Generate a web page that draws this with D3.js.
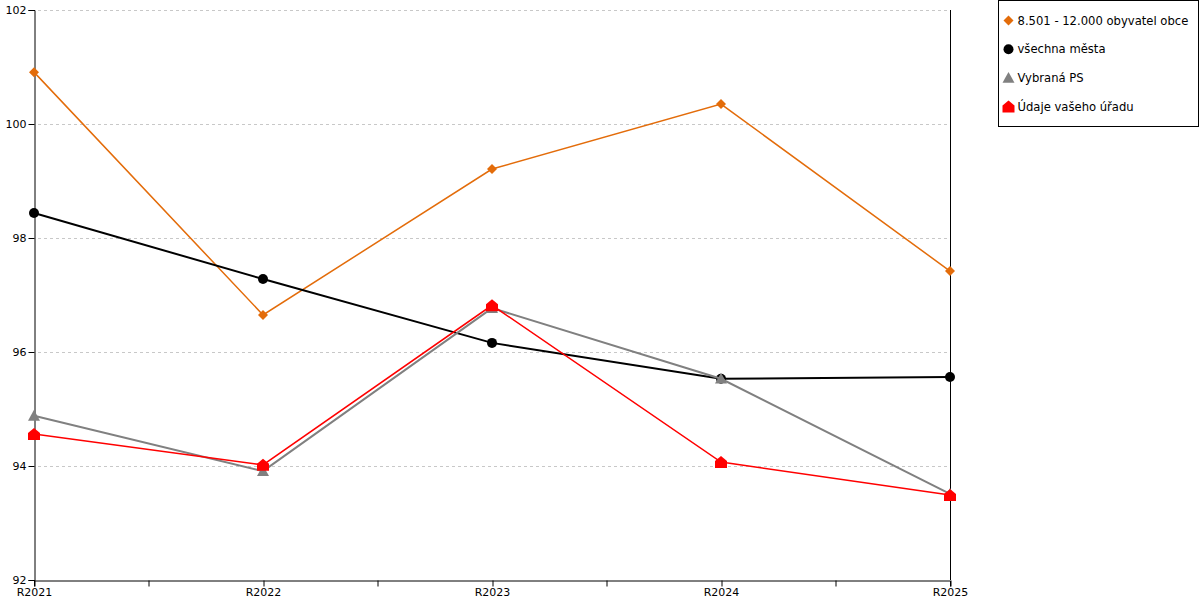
<!DOCTYPE html>
<html>
<head>
<meta charset="utf-8">
<script src="https://cdn.jsdelivr.net/npm/d3@7"></script>
<style>
  body { margin: 0; background: #fff; }
  text { font-family: "DejaVu Sans", Verdana, sans-serif; }
</style>
</head>
<body>
<div id="chart"></div>
<script>
var years = ["R2021", "R2022", "R2023", "R2024", "R2025"];
var yTicks = [92, 94, 96, 98, 100, 102];

var orangeValues = [100.91, 96.65, 99.21, 100.35, 97.42];
var blackValues = [98.44, 97.28, 96.16, 95.53, 95.56];
var grayValues = [94.88, 93.91, 96.77, 95.53, 93.51];
var redValues = [94.56, 94.02, 96.82, 94.07, 93.49];

var seriesNames = ["8.501 - 12.000 obyvatel obce", "všechna města", "Vybraná PS", "Údaje vašeho úřadu"];

var series = [
    {name: seriesNames[0], values: orangeValues, color: "#e36c0a", width: 1.5, marker: "diamond"},
    {name: seriesNames[1], values: blackValues, color: "#000000", width: 2, marker: "circle"},
    {name: seriesNames[2], values: grayValues, color: "#808080", width: 2, marker: "triangle"},
    {name: seriesNames[3], values: redValues, color: "#ff0000", width: 1.5, marker: "house"}
];

var margin = {top: 10, right: 250, bottom: 20, left: 34},
    width = 950 - margin.left,
    height = 580 - margin.top;

var svg = d3.select("#chart")
    .append("svg")
        .attr("width", 1200)
        .attr("height", 600)
    .append("g")
        .attr("transform", "translate(" + margin.left + "," + margin.top + ")");

var x = d3.scalePoint()
        .domain(years)
        .range([0, width]);

var y = d3.scaleLinear()
        .domain([92, 102])
        .range([height, 0]);

// grid lines
svg.append("g")
    .selectAll("line")
    .data(yTicks.slice(1))
    .enter().append("line")
        .attr("x1", 4)
        .attr("x2", width - 2)
        .attr("y1", function(d) { return y(d) + 0.5; })
        .attr("y2", function(d) { return y(d) + 0.5; })
        .attr("stroke", "#c8c8c8")
        .attr("stroke-dasharray", "3,3");

// y axis
var yAxis = svg.append("g")
    .attr("transform", "translate(0.5,0)")
    .call(d3.axisLeft(y).tickValues(yTicks).tickSize(6).tickPadding(2).tickFormat(d3.format("d")));

// x axis with minor ticks between categories
var xAxis = svg.append("g")
    .attr("transform", "translate(0," + (height + 0.5) + ")")
    .call(d3.axisBottom(x).tickSize(6).tickPadding(2));

var mids = d3.pairs(years).map(function(p) { return (x(p[0]) + x(p[1])) / 2; });
xAxis.selectAll(".minor")
    .data(mids)
    .enter().append("line")
        .attr("class", "minor")
        .attr("x1", function(d) { return d + 0.5; })
        .attr("x2", function(d) { return d + 0.5; })
        .attr("y1", 0)
        .attr("y2", 6)
        .attr("stroke", "#000");

[yAxis, xAxis].forEach(function(a) {
    a.select(".domain").attr("stroke", "#000");
    a.selectAll(".tick line").attr("stroke", "#000");
    a.selectAll("text").attr("font-size", 11).attr("fill", "#000")
        .attr("font-family", "DejaVu Sans, Verdana, sans-serif");
});
xAxis.selectAll(".tick line").attr("transform", "translate(0.5,0)");

// right border line
svg.append("line")
    .attr("x1", width + 0.5)
    .attr("x2", width + 0.5)
    .attr("y1", 0)
    .attr("y2", height)
    .attr("stroke", "#000");

function markerPath(type, s) {
    if (type === "diamond") return "M0," + (-s) + "L" + s + ",0L0," + s + "L" + (-s) + ",0Z";
    if (type === "triangle") return "M0," + (-s) + "L" + s + "," + (s * 0.8) + "L" + (-s) + "," + (s * 0.8) + "Z";
    if (type === "house") return "M0," + (-s) + "L" + s + ",-1L" + s + "," + s + "L" + (-s) + "," + s + "L" + (-s) + ",-1Z";
    return null;
}

function drawMarker(g, type, color, px, py) {
    if (type === "circle") {
        g.append("circle").attr("cx", px).attr("cy", py).attr("r", 5).attr("fill", color);
    } else {
        var s = type === "diamond" ? 5 : 6;
        g.append("path")
            .attr("d", markerPath(type, s))
            .attr("transform", "translate(" + px + "," + py + ")")
            .attr("fill", color);
    }
}

var line = d3.line()
    .x(function(d, i) { return x(years[i]); })
    .y(function(d) { return y(d); });

series.forEach(function(s) {
    var g = svg.append("g");
    g.append("path")
        .datum(s.values)
        .attr("d", line)
        .attr("fill", "none")
        .attr("stroke", s.color)
        .attr("stroke-width", s.width);
    s.values.forEach(function(v, i) {
        drawMarker(g, s.marker, s.color, x(years[i]), y(v));
    });
});

// legend
var legend = d3.select("svg").append("g")
    .attr("transform", "translate(998.5,0.5)");

legend.append("rect")
    .attr("width", 200)
    .attr("height", 126)
    .attr("fill", "#fff")
    .attr("stroke", "#000");

series.forEach(function(s, i) {
    var cy = 20 + i * 28.7;
    drawMarker(legend, s.marker, s.color, 10, cy);
    legend.append("text")
        .attr("x", 19)
        .attr("y", cy + 4)
        .attr("font-size", 11.6)
        .attr("fill", "#000")
        .text(s.name);
});
</script>
</body>
</html>
